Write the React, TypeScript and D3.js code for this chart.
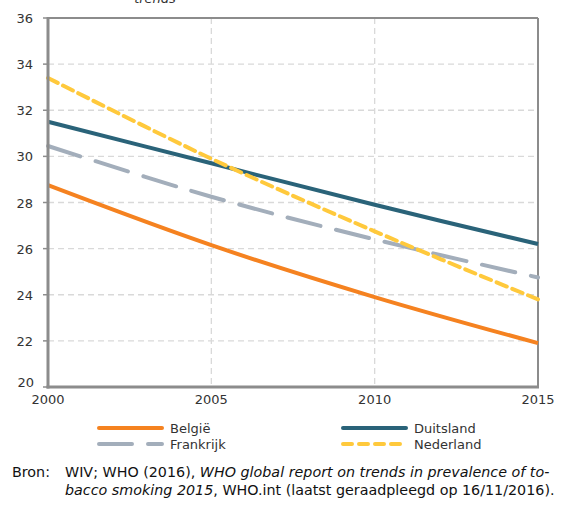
import React from "react";
import * as d3 from "d3";

const years = [2000, 2005, 2010, 2015];
const belgie = [28.75, 26.15, 23.9, 21.9];
const duitsland = [31.5, 29.7, 27.9, 26.2];
const frankrijk = [30.45, 28.25, 26.4, 24.75];
const nederland = [33.4, 29.9, 26.75, 23.8];
const yTicks = [20, 22, 24, 26, 28, 30, 32, 34, 36];
const xTicks = [2000, 2005, 2010, 2015];

const series = [
  { name: "België", values: belgie, color: "#F58220", dash: "" },
  { name: "Duitsland", values: duitsland, color: "#2A6379", dash: "" },
  { name: "Frankrijk", values: frankrijk, color: "#A3AEBB", dash: "34 16" },
  { name: "Nederland", values: nederland, color: "#FFC93C", dash: "11 6" },
];

const W = 564;
const H = 520;
const L = 48, R = 538, T = 18, B = 387;
const FONT = "DejaVu Sans";

export default function App() {
  const x = d3.scaleLinear().domain([2000, 2015]).range([L, R]);
  const y = d3.scaleLinear().domain([20, 36]).range([B, T]);
  const line = d3
    .line<number>()
    .x((_, i) => x(years[i]))
    .y((d) => y(d))
    .curve(d3.curveCatmullRom.alpha(0.5));

  const legendItems = [
    { s: series[0], lx: 98, ly: 428 },
    { s: series[1], lx: 342, ly: 428 },
    { s: series[2], lx: 98, ly: 444 },
    { s: series[3], lx: 342, ly: 444 },
  ];

  return (
    <svg
      width={W}
      height={H}
      style={{ position: "absolute", left: 0, top: 0, background: "#fff" }}
      fontFamily={FONT}
    >
      <text x={155} y={3} textAnchor="middle" fontSize={13} fontStyle="italic" fill="#333">
        trends
      </text>
      {/* grid */}
      {yTicks.filter((t) => t !== 20 && t !== 36).map((t) => (
        <line key={"gy" + t} x1={L} x2={R} y1={y(t)} y2={y(t)} stroke="#D9D9D9" strokeWidth={1.3} strokeDasharray="6 4" />
      ))}
      {xTicks.filter((t) => t !== 2000 && t !== 2015).map((t) => (
        <line key={"gx" + t} x1={x(t)} x2={x(t)} y1={T} y2={B} stroke="#D9D9D9" strokeWidth={1.3} strokeDasharray="6 4" />
      ))}
      {/* frame top/right */}
      <line x1={L} x2={R} y1={T} y2={T} stroke="#8C8C8C" strokeWidth={2} />
      <line x1={R} x2={R} y1={T} y2={B} stroke="#8C8C8C" strokeWidth={2} />
      {/* series */}
      {series.map((s) => (
        <path
          key={s.name}
          d={line(s.values) || ""}
          fill="none"
          stroke={s.color}
          strokeWidth={4}
          strokeDasharray={s.dash || undefined}
          strokeLinecap={s.dash ? "round" : "butt"}
        />
      ))}
      {/* axes */}
      <line x1={L} x2={L} y1={T - 1} y2={B + 1.5} stroke="#8C8C8C" strokeWidth={3} />
      <line x1={L - 1.5} x2={R + 1} y1={B} y2={B} stroke="#8C8C8C" strokeWidth={3} />
      {yTicks.map((t) => (
        <g key={"yt" + t}>
          <line x1={L - 5} x2={L} y1={y(t)} y2={y(t)} stroke="#8C8C8C" strokeWidth={1.5} />
          <text x={t === 20 ? 34 : 33} y={y(t) + (t === 20 ? 0 : 5)} textAnchor="end" fontSize={13} fill="#333">
            {t}
          </text>
        </g>
      ))}
      {xTicks.map((t) => (
        <text key={"xt" + t} x={x(t)} y={404} textAnchor="middle" fontSize={13} fill="#333">
          {t}
        </text>
      ))}
      {/* legend */}
      {legendItems.map(({ s, lx, ly }) => (
        <g key={"lg" + s.name}>
          <line
            x1={lx + 1}
            x2={lx + 64}
            y1={ly}
            y2={ly}
            stroke={s.color}
            strokeWidth={4}
            strokeLinecap="round"
            strokeDasharray={s.dash ? (s.name === "Frankrijk" ? "33 16" : "9 7") : undefined}
          />
          <text x={lx + 72} y={ly + 5} fontSize={13} fill="#333">
            {s.name}
          </text>
        </g>
      ))}
      {/* source */}
      <text fontSize={14.3} fill="#111">
        <tspan x={12} y={477}>Bron:</tspan>
        <tspan x={65} y={477}>WIV; WHO (2016), </tspan>
        <tspan fontStyle="italic">WHO global report on trends in prevalence of to-</tspan>
        <tspan x={65} y={495} fontStyle="italic">bacco smoking 2015</tspan>
        <tspan>, WHO.int (laatst geraadpleegd op 16/11/2016).</tspan>
      </text>
    </svg>
  );
}
